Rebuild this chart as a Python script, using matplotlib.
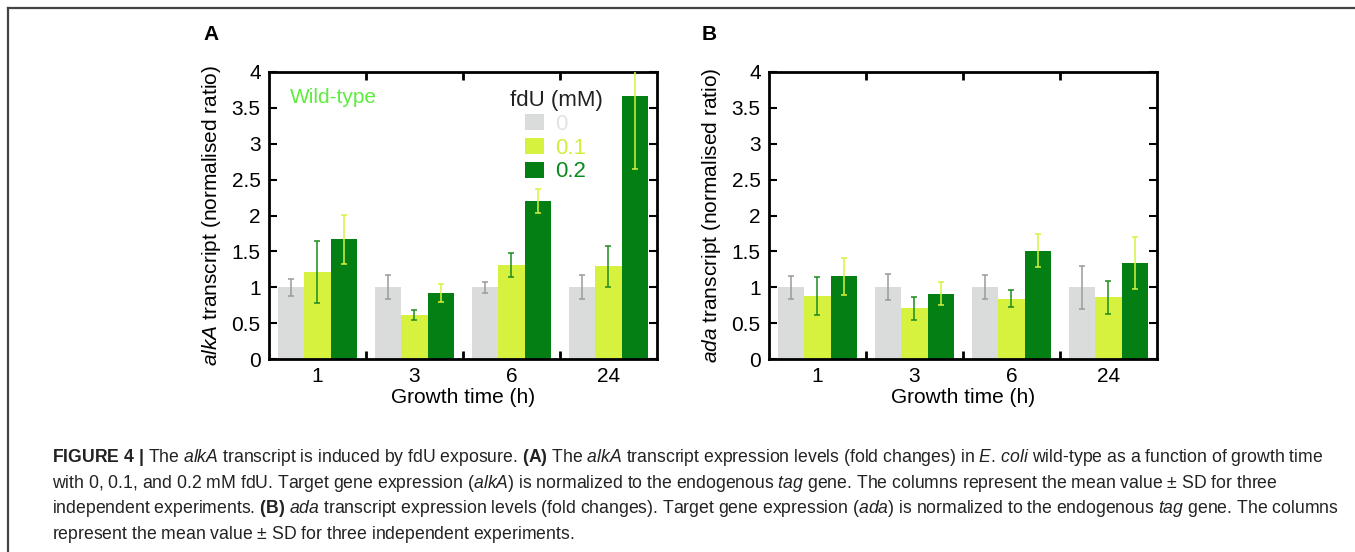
import matplotlib
matplotlib.use('Agg')
import matplotlib.pyplot as plt
import numpy as np
from matplotlib.lines import Line2D

plt.rcParams['font.family'] = ['Liberation Sans', 'DejaVu Sans']
plt.rcParams['mathtext.fontset'] = 'custom'
plt.rcParams['mathtext.rm'] = 'Liberation Sans'
plt.rcParams['mathtext.it'] = 'Liberation Sans:italic'
plt.rcParams['mathtext.bf'] = 'Liberation Sans:bold'

# données
temps = ['1', '3', '6', '24']
doses = ['0', '0.1', '0.2']

alkA_moy = [[1.0, 1.0, 1.0, 1.0],
            [1.21, 0.62, 1.31, 1.29],
            [1.67, 0.92, 2.20, 3.67]]
alkA_sd = [[0.12, 0.17, 0.08, 0.17],
           [0.43, 0.07, 0.17, 0.28],
           [0.34, 0.13, 0.17, 1.02]]

ada_moy = [[1.0, 1.0, 1.0, 1.0],
           [0.88, 0.71, 0.84, 0.86],
           [1.15, 0.91, 1.51, 1.34]]
ada_sd = [[0.16, 0.18, 0.17, 0.30],
          [0.26, 0.16, 0.12, 0.23],
          [0.26, 0.16, 0.23, 0.36]]

couleurs = ['#d9dcdb', '#d6f23e', '#047f14']
couleurs_err = ['#9a9a9a', '#1e8a1e', '#d6f23e']
couleurs_leg = ['#dfe3e8', '#d2ee3c', '#0a8a1c']

fig = plt.figure(figsize=(13.55, 5.52), dpi=100)
axA = fig.add_axes([0.1985, 0.3496, 0.2863, 0.52])
axB = fig.add_axes([0.5675, 0.3496, 0.2863, 0.52])

largeur = 0.273
x = np.arange(len(temps))


def tracer(ax, moy, sd, ylabel_txt):
    barres = []
    for i in range(len(doses)):
        pos = x + (i - 1) * largeur
        b = ax.bar(pos, moy[i], largeur, color=couleurs[i], label=doses[i], zorder=2)
        barres.append(b)
        ax.errorbar(pos, moy[i], yerr=sd[i], fmt='none', ecolor=couleurs_err[i],
                    elinewidth=1.1, capsize=2.5, capthick=1.1, zorder=3)
    ax.set_xlim(-0.5, 3.5)
    ax.set_ylim(0, 4)
    ax.set_yticks(np.arange(0, 4.01, 0.5))
    ax.set_yticklabels(['0', '0.5', '1', '1.5', '2', '2.5', '3', '3.5', '4'])
    ax.set_xticks(x)
    ax.set_xticklabels(temps)
    ax.set_xticks([0.5, 1.5, 2.5], minor=True)
    ax.tick_params(axis='x', which='major', length=0, labelsize=15, pad=6)
    ax.tick_params(axis='x', which='minor', direction='in', length=6, width=2,
                   top=True, bottom=True)
    ax.tick_params(axis='y', direction='in', length=6, width=1.5, right=True,
                   labelsize=15, pad=6)
    for s in ax.spines.values():
        s.set_linewidth(2)
    ax.set_xlabel('Growth time (h)', fontsize=15, labelpad=1)
    ax.set_ylabel(ylabel_txt, fontsize=15, labelpad=6)
    return barres


barresA = tracer(axA, alkA_moy, alkA_sd, r'$\mathit{alkA}$ transcript (normalised ratio)')
tracer(axB, ada_moy, ada_sd, r'$\mathit{ada}$ transcript (normalised ratio)')

axA.text(0.055, 0.91, 'Wild-type', transform=axA.transAxes, color='#5cee3c',
         fontsize=15, va='center')
leg = axA.legend(handles=barresA, title='fdU (mM)', loc='upper left',
                 bbox_to_anchor=(0.58, 0.99), frameon=False, fontsize=16,
                 title_fontsize=16, handlelength=0.85, handleheight=0.75,
                 handletextpad=0.5, labelspacing=0.12, borderpad=0.2,
                 labelcolor=couleurs_leg)
leg.get_title().set_color('#222222')

fig.text(203 / 1355, 1 - 35 / 552, 'A', fontsize=15, fontweight='bold', va='center')
fig.text(702 / 1355, 1 - 35 / 552, 'B', fontsize=15, fontweight='bold', va='center')

# cadre de la figure
fig.add_artist(Line2D([8 / 1355, 1], [1 - 8 / 552, 1 - 8 / 552], color='#444444', lw=1.6))
fig.add_artist(Line2D([8 / 1355, 8 / 1355], [0, 1 - 8 / 552], color='#444444', lw=1.6))

# légende de la figure
lignes = [
    r'$\mathbf{FIGURE\ 4\ |}$ The $\mathit{alkA}$ transcript is induced by fdU exposure. '
    r'$\mathbf{(A)}$ The $\mathit{alkA}$ transcript expression levels (fold changes) in '
    r'$\mathit{E.\,coli}$ wild-type as a function of growth time',
    r'with 0, 0.1, and 0.2 mM fdU. Target gene expression ($\mathit{alkA}$) is normalized '
    r'to the endogenous $\mathit{tag}$ gene. The columns represent the mean value $\pm$ SD for three',
    r'independent experiments. $\mathbf{(B)}$ $\mathit{ada}$ transcript expression levels '
    r'(fold changes). Target gene expression ($\mathit{ada}$) is normalized to the endogenous '
    r'$\mathit{tag}$ gene. The columns',
    r'represent the mean value $\pm$ SD for three independent experiments.',
]
y_lignes = [462, 488, 513, 539]
for txt, yy in zip(lignes, y_lignes):
    fig.text(52 / 1355, 1 - yy / 552, txt, fontsize=12.7, color='#222222', va='baseline')

fig.savefig('out.png', dpi=100)
